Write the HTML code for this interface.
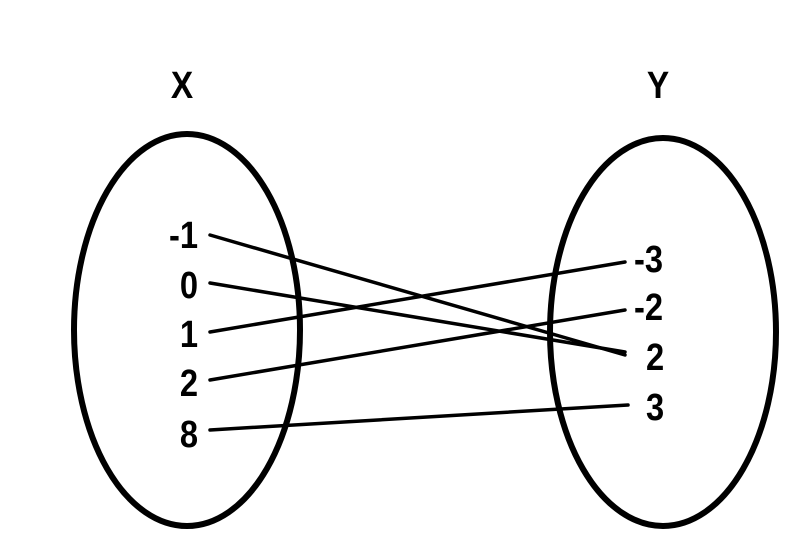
<!DOCTYPE html>
<html><head><style>
html,body{margin:0;padding:0;background:#fff;}
svg{display:block;}
text{font-family:"Liberation Sans",Arial,sans-serif;font-weight:bold;font-size:38px;fill:#000;}
</style></head><body>
<svg width="800" height="544" viewBox="0 0 800 544">
<ellipse cx="187" cy="330" rx="113" ry="196" fill="none" stroke="#000" stroke-width="6"/>
<ellipse cx="663" cy="332" rx="113" ry="194" fill="none" stroke="#000" stroke-width="6"/>
<g transform="translate(182,98) scale(0.88,1)"><text text-anchor="middle">X</text></g>
<g transform="translate(658,98) scale(0.88,1)"><text text-anchor="middle">Y</text></g>
<g text-anchor="end">
<g transform="translate(198,248) scale(0.86,1)"><text>-1</text></g>
<g transform="translate(198,298) scale(0.86,1)"><text>0</text></g>
<g transform="translate(198,347) scale(0.86,1)"><text>1</text></g>
<g transform="translate(198,396) scale(0.86,1)"><text>2</text></g>
<g transform="translate(198,447) scale(0.86,1)"><text>8</text></g>
</g>
<g text-anchor="start">
<g transform="translate(634,272) scale(0.86,1)"><text>-3</text></g>
<g transform="translate(634,320) scale(0.86,1)"><text>-2</text></g>
<g transform="translate(646,370) scale(0.86,1)"><text>2</text></g>
<g transform="translate(646,420) scale(0.86,1)"><text>3</text></g>
</g>
<g stroke="#000" stroke-width="3.5" stroke-linecap="round">
<line x1="210" y1="235" x2="625" y2="355"/>
<line x1="210" y1="283" x2="625" y2="352"/>
<line x1="210" y1="332" x2="625" y2="262"/>
<line x1="210" y1="380" x2="625" y2="310"/>
<line x1="210" y1="430" x2="628" y2="405"/>
</g>
</svg>
</body></html>
